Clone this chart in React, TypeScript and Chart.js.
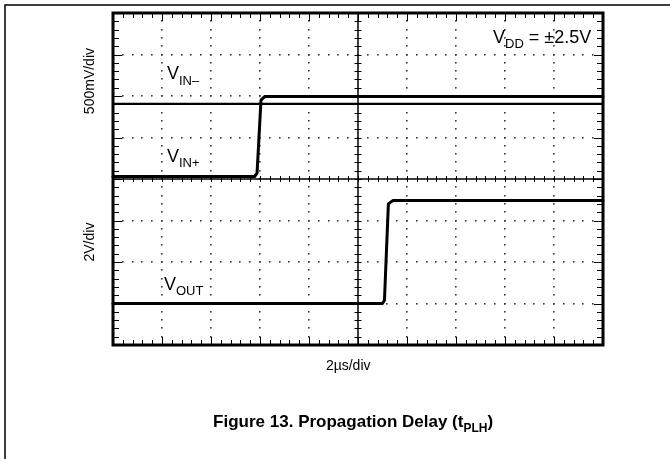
import React, { useEffect, useRef } from "react";
import { Chart, registerables } from "chart.js";

Chart.register(...registerables);

const FONT = '"Liberation Sans", Arial, Helvetica, sans-serif';

// Horizontal axis: 10 divisions (2 µs/div); vertical: 8 divisions
const xDivisions = 10;
const yDivisions = 8;

// Traces, in divisions
const vinMinusX = [0, 10];
const vinMinusY = [5.81, 5.81];
const vinPlusX = [0, 2.89, 2.94, 3.02, 3.1, 10];
const vinPlusY = [4.06, 4.06, 4.14, 5.9, 5.99, 5.99];
const voutX = [0, 5.5, 5.54, 5.62, 5.71, 10];
const voutY = [1.0, 1.0, 1.08, 3.4, 3.48, 3.48];

// Labels
const yLabelTop = "500mV/div";
const yLabelBottom = "2V/div";
const xLabel = "2\u00B5s/div";
const vinMinusLabel: [string, boolean][] = [["V", false], ["IN\u2013", true]];
const vinPlusLabel: [string, boolean][] = [["V", false], ["IN+", true]];
const voutLabel: [string, boolean][] = [["V", false], ["OUT", true]];
const supplyLabel: [string, boolean][] = [["V", false], ["DD", true], [" = \u00B12.5V", false]];
const titleLabel: [string, boolean][] = [["Figure 13. Propagation Delay (t", false], ["PLH", true], [")", false]];

const toPoints = (xs: number[], ys: number[]) => xs.map((x, i) => ({ x, y: ys[i] }));

function drawRich(
  ctx: CanvasRenderingContext2D,
  parts: [string, boolean][],
  x: number,
  y: number,
  size: number,
  subSize: number,
  align: "left" | "right" | "center",
  bold = false
) {
  const w = bold ? "bold " : "";
  const mainFont = `${w}${size}px ${FONT}`;
  const subFont = `${w}${subSize}px ${FONT}`;
  let total = 0;
  for (const [t, sub] of parts) {
    ctx.font = sub ? subFont : mainFont;
    total += ctx.measureText(t).width;
  }
  let cx = align === "left" ? x : align === "right" ? x - total : x - total / 2;
  ctx.textAlign = "left";
  ctx.textBaseline = "alphabetic";
  for (const [t, sub] of parts) {
    ctx.font = sub ? subFont : mainFont;
    ctx.fillText(t, cx, sub ? y + size * 0.3 : y);
    cx += ctx.measureText(t).width;
  }
}

const scopePlugin = {
  id: "scope",
  beforeDatasetsDraw(chart: any) {
    const { ctx, chartArea: a, scales } = chart;
    const xs = scales.x;
    const ys = scales.y;
    ctx.save();
    // dotted graticule
    ctx.fillStyle = "#3a3a3a";
    for (let i = 1; i < xDivisions; i++) {
      if (i === xDivisions / 2) continue;
      const px = Math.round(xs.getPixelForValue(i));
      for (let j = 1; j < yDivisions * 5; j++) {
        const py = Math.round(ys.getPixelForValue(j * 0.2));
        ctx.fillRect(px - 1, py - 1, 1.6, 1.6);
      }
    }
    for (let j = 1; j < yDivisions; j++) {
      if (j === yDivisions / 2) continue;
      const py = Math.round(ys.getPixelForValue(j));
      for (let i = 1; i < xDivisions * 5; i++) {
        const px = Math.round(xs.getPixelForValue(i * 0.2));
        ctx.fillRect(px - 1, py - 1, 1.6, 1.6);
      }
    }
    // center crosshair
    ctx.strokeStyle = "#000";
    ctx.lineWidth = 1.5;
    const cx = xs.getPixelForValue(xDivisions / 2);
    const cy = ys.getPixelForValue(yDivisions / 2);
    ctx.beginPath();
    ctx.moveTo(cx, a.top);
    ctx.lineTo(cx, a.bottom);
    ctx.moveTo(a.left, cy);
    ctx.lineTo(a.right, cy);
    ctx.stroke();
    ctx.lineWidth = 1;
    ctx.beginPath();
    for (let i = 1; i < xDivisions * 5; i++) {
      const px = Math.round(xs.getPixelForValue(i * 0.2)) + 0.5;
      ctx.moveTo(px, cy - 3);
      ctx.lineTo(px, cy + 3);
    }
    for (let j = 1; j < yDivisions * 5; j++) {
      const py = Math.round(ys.getPixelForValue(j * 0.2)) + 0.5;
      ctx.moveTo(cx - 3.5, py);
      ctx.lineTo(cx + 3.5, py);
    }
    // frame ticks
    for (let i = 1; i < xDivisions * 5; i++) {
      const px = Math.round(xs.getPixelForValue(i * 0.2)) + 0.5;
      const L = i % 5 === 0 ? 8 : 5;
      ctx.moveTo(px, a.top);
      ctx.lineTo(px, a.top + L);
      ctx.moveTo(px, a.bottom);
      ctx.lineTo(px, a.bottom - L);
    }
    for (let j = 1; j < yDivisions * 5; j++) {
      const py = Math.round(ys.getPixelForValue(j * 0.2)) + 0.5;
      const L = j % 5 === 0 ? 9 : 6;
      ctx.moveTo(a.left, py);
      ctx.lineTo(a.left + L, py);
      ctx.moveTo(a.right, py);
      ctx.lineTo(a.right - L, py);
    }
    ctx.stroke();
    ctx.restore();
  },
  afterDatasetsDraw(chart: any) {
    const { ctx, chartArea: a, scales } = chart;
    const xs = scales.x;
    const ys = scales.y;
    ctx.save();
    // frame
    ctx.strokeStyle = "#000";
    ctx.lineWidth = 3;
    ctx.strokeRect(a.left, a.top, a.right - a.left, a.bottom - a.top);
    // figure border
    ctx.lineWidth = 1.5;
    ctx.beginPath();
    ctx.moveTo(5, 459);
    ctx.lineTo(5, 5);
    ctx.lineTo(670, 5);
    ctx.stroke();

    ctx.fillStyle = "#000";
    // trace labels
    drawRich(ctx, vinMinusLabel, xs.getPixelForValue(1.1), ys.getPixelForValue(6.4), 18, 13, "left");
    drawRich(ctx, vinPlusLabel, xs.getPixelForValue(1.1), ys.getPixelForValue(4.42), 18, 13, "left");
    drawRich(ctx, voutLabel, xs.getPixelForValue(1.04), ys.getPixelForValue(1.33), 18, 13, "left");
    drawRich(ctx, supplyLabel, xs.getPixelForValue(9.76), ys.getPixelForValue(7.28), 18, 13, "right");

    // axis labels
    ctx.font = `14px ${FONT}`;
    ctx.textAlign = "center";
    ctx.textBaseline = "middle";
    const lx = a.left - 23;
    ctx.save();
    ctx.translate(lx, ys.getPixelForValue(6.36));
    ctx.rotate(-Math.PI / 2);
    ctx.fillText(yLabelTop, 0, 0);
    ctx.restore();
    ctx.save();
    ctx.translate(lx, ys.getPixelForValue(2.48));
    ctx.rotate(-Math.PI / 2);
    ctx.fillText(yLabelBottom, 0, 0);
    ctx.restore();
    ctx.fillText(xLabel, xs.getPixelForValue(4.8), a.bottom + 21);

    // title
    drawRich(ctx, titleLabel, xs.getPixelForValue(4.9), 427, 17, 12, "center", true);
    ctx.restore();
  },
};

export default function App() {
  const ref = useRef<HTMLCanvasElement | null>(null);
  useEffect(() => {
    document.body.style.margin = "0";
    const canvas = ref.current!;
    const common = {
      borderColor: "#000",
      pointRadius: 0,
      tension: 0,
      borderJoinStyle: "round" as const,
      borderCapStyle: "round" as const,
      clip: false as any,
      fill: false,
    };
    const chart = new Chart(canvas, {
      type: "line",
      data: {
        datasets: [
          { ...common, label: "VIN-", data: toPoints(vinMinusX, vinMinusY), borderWidth: 2.2 },
          { ...common, label: "VIN+", data: toPoints(vinPlusX, vinPlusY), borderWidth: 3 },
          { ...common, label: "VOUT", data: toPoints(voutX, voutY), borderWidth: 3 },
        ],
      },
      options: {
        animation: false,
        responsive: false,
        devicePixelRatio: 1,
        layout: { padding: { left: 113, top: 13, right: 67, bottom: 114 } },
        plugins: { legend: { display: false }, tooltip: { enabled: false }, title: { display: false } },
        scales: {
          x: { type: "linear", min: 0, max: xDivisions, display: false },
          y: { type: "linear", min: 0, max: yDivisions, display: false },
        },
      },
      plugins: [scopePlugin],
    });
    return () => chart.destroy();
  }, []);
  return (
    <div style={{ position: "absolute", left: 0, top: 0, width: 670, height: 459, background: "#fff" }}>
      <canvas ref={ref} width={670} height={459} style={{ width: 670, height: 459, display: "block" }} />
    </div>
  );
}
